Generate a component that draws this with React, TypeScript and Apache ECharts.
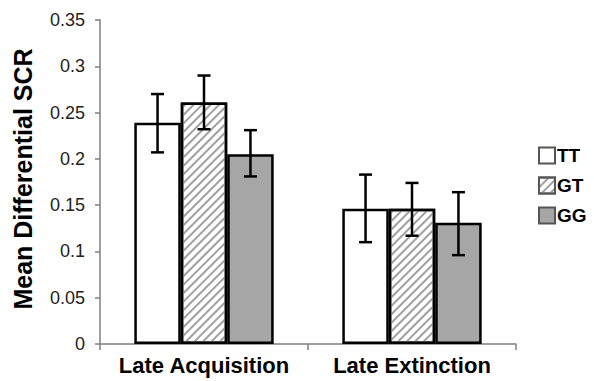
import React, { useEffect, useRef } from "react";
import * as echarts from "echarts";

const categories = ["Late Acquisition", "Late Extinction"];
const groups = ["TT", "GT", "GG"];
const ttValues = [0.239, 0.146];
const gtValues = [0.261, 0.146];
const ggValues = [0.205, 0.131];
const ttErrLow = [0.207, 0.110];
const ttErrHigh = [0.270, 0.183];
const gtErrLow = [0.232, 0.117];
const gtErrHigh = [0.290, 0.174];
const ggErrLow = [0.181, 0.096];
const ggErrHigh = [0.231, 0.164];

const FONT = "'Liberation Sans', Arial, sans-serif";
const CAT_GAP = 0.33;

export default function App() {
  const ref = useRef<HTMLDivElement>(null);
  useEffect(() => {
    if (!ref.current) return;
    const chart = echarts.init(ref.current, null, { renderer: "svg" });
    const lows = [ttErrLow, gtErrLow, ggErrLow];
    const highs = [ttErrHigh, gtErrHigh, ggErrHigh];
    const errData: number[][] = [];
    categories.forEach((_, ci) => {
      groups.forEach((_, gi) => {
        errData.push([ci, gi, lows[gi][ci], highs[gi][ci]]);
      });
    });
    const barBase = {
      type: "bar",
      barGap: "0%",
      barCategoryGap: CAT_GAP * 100 + "%",
      z: 2,
    };
    chart.setOption({
      animation: false,
      textStyle: { fontFamily: FONT },
      grid: { left: 100, right: 78, top: 20, bottom: 37 },
      legend: {
        data: groups,
        orient: "vertical",
        left: 533,
        top: 141,
        itemWidth: 16,
        itemHeight: 16,
        itemGap: 11,
        icon: "rect",
        itemStyle: { borderColor: "#555", borderWidth: 2 },
        textStyle: { fontFamily: FONT, fontWeight: "bold", fontSize: 19, color: "#000", padding: [0, 0, 0, -3] },
      },
      xAxis: {
        type: "category",
        data: categories,
        axisLine: { lineStyle: { color: "#808080", width: 1.5 } },
        axisTick: { show: true, length: 6, lineStyle: { color: "#808080", width: 1.5 } },
        axisLabel: {
          interval: 0,
          hideOverlap: false,
          fontFamily: FONT,
          fontWeight: "bold",
          fontSize: 22,
          color: "#000",
          margin: 10,
        },
      },
      yAxis: {
        type: "value",
        min: 0,
        max: 0.35,
        interval: 0.05,
        splitLine: { show: false },
        axisLine: { show: true, lineStyle: { color: "#808080", width: 1.5 } },
        axisTick: { show: true, length: 5, lineStyle: { color: "#808080", width: 1.5 } },
        axisLabel: { fontFamily: FONT, fontSize: 18, color: "#222", margin: 15 },
      },
      graphic: [
        {
          type: "text",
          x: 23,
          y: 179,
          rotation: Math.PI / 2,
          style: {
            text: "Mean Differential SCR",
            fontFamily: FONT,
            fontWeight: "bold",
            fontSize: 25,
            fill: "#000",
            align: "center",
            verticalAlign: "middle",
          },
        },
      ],
      series: [
        {
          ...barBase,
          name: "TT",
          data: ttValues,
          itemStyle: { color: "#ffffff", borderColor: "#000", borderWidth: 2.5 },
        },
        {
          ...barBase,
          name: "GT",
          data: gtValues,
          itemStyle: {
            color: "#ffffff",
            borderColor: "#000",
            borderWidth: 2.5,
            decal: {
              symbol: "rect",
              symbolSize: 1,
              dashArrayX: [1, 0],
              dashArrayY: [2, 4],
              rotation: -Math.PI / 4,
              color: "#a0a0a0",
              backgroundColor: "#ffffff",
            },
          },
        },
        {
          ...barBase,
          name: "GG",
          data: ggValues,
          itemStyle: { color: "#a6a6a6", borderColor: "#000", borderWidth: 2.5 },
        },
        {
          type: "custom",
          name: "err",
          z: 5,
          data: errData,
          renderItem: (params: any, api: any) => {
            const ci = api.value(0);
            const gi = api.value(1);
            const catW = api.size([1, 0])[0];
            const barW = (catW * (1 - CAT_GAP)) / 3;
            const cx = api.coord([ci, 0])[0] + (gi - 1) * barW;
            const yLo = api.coord([ci, api.value(2)])[1];
            const yHi = api.coord([ci, api.value(3)])[1];
            const cap = 6.5;
            const style = { stroke: "#000", lineWidth: 2.5 };
            return {
              type: "group",
              children: [
                { type: "line", shape: { x1: cx, y1: yLo, x2: cx, y2: yHi }, style },
                { type: "line", shape: { x1: cx - cap, y1: yHi, x2: cx + cap, y2: yHi }, style },
                { type: "line", shape: { x1: cx - cap, y1: yLo, x2: cx + cap, y2: yLo }, style },
              ],
            };
          },
        },
      ],
    });
    return () => chart.dispose();
  }, []);
  return <div ref={ref} style={{ width: 594, height: 381, position: "absolute", left: 0, top: 0 }} />;
}
